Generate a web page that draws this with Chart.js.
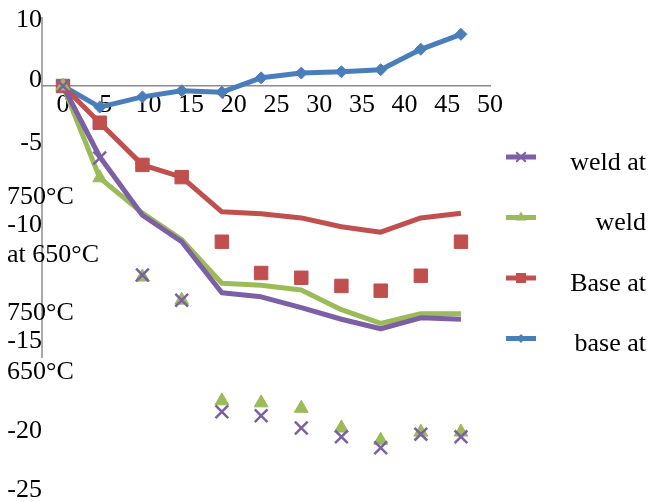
<!DOCTYPE html>
<html>
<head>
<meta charset="utf-8">
<script src="https://cdn.jsdelivr.net/npm/chart.js@4/dist/chart.umd.min.js"></script>
<style>
    body { margin: 0; background: #fff; }
</style>
</head>
<body>
<canvas id="weldChart" width="649" height="502"></canvas>
<script>
// x 위치 (읽은 값)
const xValues = [0, 4.3, 9.3, 13.9, 18.6, 23.2, 27.9, 32.6, 37.2, 41.9, 46.6];
const xTicks = [0, 5, 10, 15, 20, 25, 30, 35, 40, 45, 50];

// 선 데이터
const weld750Line = [0, -10.4, -19.0, -22.9, -30.4, -31.0, -32.6, -34.3, -35.7, -34.1, -34.3];
const weld650Line = [0, -13.5, -18.7, -22.6, -29.0, -29.3, -30.0, -32.9, -34.9, -33.5, -33.5];
const base750Line = [0, -5.4, -11.6, -13.4, -18.5, -18.8, -19.4, -20.7, -21.5, -19.4, -18.7];
const base650Line = [0, -3.1, -1.6, -0.7, -0.9, 1.2, 1.9, 2.1, 2.4, 5.4, 7.6];

// 마커 데이터 (선에서 벗어나 찍힌 점들)
const weld750Marks = [0, -10.6, -27.8, -31.5, -47.9, -48.5, -50.3, -51.6, -53.2, -51.2, -51.6];
const weld650Marks = [0, -13.5, -28.1, -31.5, -46.3, -46.6, -47.4, -50.3, -52.1, -50.9, -50.9];
const base750Marks = [0, -5.4, -11.6, -13.4, -22.9, -27.5, -28.2, -29.4, -30.1, -27.9, -22.9];
const base650Marks = base650Line;

// 축 눈금 라벨
const yTickLabels = ['10', '0', '-5', '-10', '-15', '-20', '-25'];

// 범례 텍스트
const legendRight = ['weld at', 'weld', 'Base at', 'base at'];
const legendLeft = ['750°C', 'at 650°C', '750°C', '650°C'];

const colors = ['#7D5FA5', '#9BBB59', '#C0504D', '#4A7EBB'];
const styles = [
    { pointStyle: 'crossRot', radius: 9 },
    { pointStyle: 'triangle', radius: 8 },
    { pointStyle: 'rect', radius: 9.5 },
    { pointStyle: 'rectRot', radius: 6 }
];

const FONT = '"Liberation Serif", "Times New Roman", serif';
const FONT_SIZE = 26;

function toPoints(arr) {
    return arr.map((v, i) => ({ x: xValues[i], y: v }));
}

function markerSet(arr, i) {
    return {
        data: toPoints(arr),
        showLine: false,
        pointStyle: styles[i].pointStyle,
        pointRadius: styles[i].radius,
        pointBackgroundColor: colors[i],
        pointBorderColor: colors[i],
        pointBorderWidth: i === 0 ? 2.5 : 1
    };
}

function lineSet(arr, i) {
    return {
        data: toPoints(arr),
        borderColor: colors[i],
        borderWidth: 5,
        borderJoinStyle: 'round',
        pointRadius: 0,
        tension: 0
    };
}

// y 눈금 위치 (그림 속 라벨 행 위치)
const yTickRows = [9.7, 0.88, -8.39, -20.45, -37.5, -50.7, -59.4];

// 축선 + 범례 그리기
const extrasPlugin = {
    id: 'extras',
    beforeDatasetsDraw(chart) {
        const ctx = chart.ctx;
        const y = chart.scales.y;
        const left = chart.chartArea.left;
        ctx.save();
        ctx.strokeStyle = '#8c8c8c';
        ctx.lineWidth = 1.5;
        ctx.beginPath();
        ctx.moveTo(left, y.getPixelForValue(10) - 1);
        ctx.lineTo(left, y.getPixelForValue(-40));
        ctx.stroke();
        ctx.restore();
    },
    afterDraw(chart) {
        const ctx = chart.ctx;
        ctx.save();
        ctx.font = FONT_SIZE + 'px ' + FONT;
        ctx.textBaseline = 'middle';
        for (let i = 0; i < legendRight.length; i++) {
            const rowY = 157 + i * 60.5;
            // 선 샘플
            ctx.strokeStyle = colors[i];
            ctx.lineWidth = 5;
            ctx.beginPath();
            ctx.moveTo(506, rowY);
            ctx.lineTo(536, rowY);
            ctx.stroke();
            drawMarker(ctx, styles[i].pointStyle, 521, rowY, styles[i].radius * 0.75, colors[i]);
            // 텍스트
            ctx.fillStyle = '#000';
            ctx.textAlign = 'right';
            ctx.fillText(legendRight[i], 646, rowY + 6);
            // 왼쪽으로 넘어간 줄
            ctx.textAlign = 'left';
            ctx.fillText(legendLeft[i], 7, rowY + 40 - i * 2.2);
        }
        ctx.restore();
    }
};

function drawMarker(ctx, style, x, y, r, color) {
    ctx.save();
    ctx.fillStyle = color;
    ctx.strokeStyle = color;
    ctx.lineWidth = 2;
    ctx.beginPath();
    if (style === 'crossRot') {
        const d = r * Math.SQRT1_2;
        ctx.moveTo(x - d, y - d); ctx.lineTo(x + d, y + d);
        ctx.moveTo(x + d, y - d); ctx.lineTo(x - d, y + d);
        ctx.stroke();
    } else if (style === 'triangle') {
        ctx.moveTo(x, y - r);
        ctx.lineTo(x + r * 0.866, y + r * 0.5);
        ctx.lineTo(x - r * 0.866, y + r * 0.5);
        ctx.closePath();
        ctx.fill();
    } else if (style === 'rect') {
        const s = r * Math.SQRT1_2;
        ctx.rect(x - s, y - s, 2 * s, 2 * s);
        ctx.fill();
    } else {
        ctx.moveTo(x - r, y); ctx.lineTo(x, y - r);
        ctx.lineTo(x + r, y); ctx.lineTo(x, y + r);
        ctx.closePath();
        ctx.fill();
    }
    ctx.restore();
}

new Chart(document.getElementById('weldChart'), {
    type: 'line',
    data: {
        datasets: [
            markerSet(weld750Marks, 0),
            markerSet(weld650Marks, 1),
            markerSet(base750Marks, 2),
            markerSet(base650Marks, 3),
            lineSet(weld750Line, 0),
            lineSet(weld650Line, 1),
            lineSet(base750Line, 2),
            lineSet(base650Line, 3)
        ]
    },
    options: {
        responsive: false,
        animation: false,
        layout: { autoPadding: false, padding: { left: 0, top: 0, right: 159, bottom: 0 } },
        plugins: {
            legend: { display: false },
            tooltip: { enabled: false }
        },
        scales: {
            x: {
                type: 'linear',
                min: -2.46,
                max: 50,
                position: { y: 0 },
                grid: { display: false, drawTicks: false },
                border: { display: true, color: '#8c8c8c', width: 1.5 },
                afterBuildTicks(scale) {
                    scale.ticks = xTicks.map(v => ({ value: v }));
                },
                ticks: {
                    padding: 4,
                    color: '#000',
                    font: { family: FONT, size: FONT_SIZE },
                    maxRotation: 0,
                    autoSkip: false
                }
            },
            y: {
                type: 'linear',
                min: -61.18,
                max: 12.65,
                grid: { display: false, drawTicks: false },
                border: { display: false },
                afterBuildTicks(scale) {
                    scale.ticks = yTickRows.map(v => ({ value: v }));
                },
                afterFit(scale) {
                    scale.width = 42;
                    scale.paddingTop = 0;
                    scale.paddingBottom = 0;
                },
                ticks: {
                    padding: 0,
                    color: '#000',
                    font: { family: FONT, size: FONT_SIZE },
                    autoSkip: false,
                    callback: (value, index) => yTickLabels[index]
                }
            }
        }
    },
    plugins: [extrasPlugin]
});
</script>
</body>
</html>
